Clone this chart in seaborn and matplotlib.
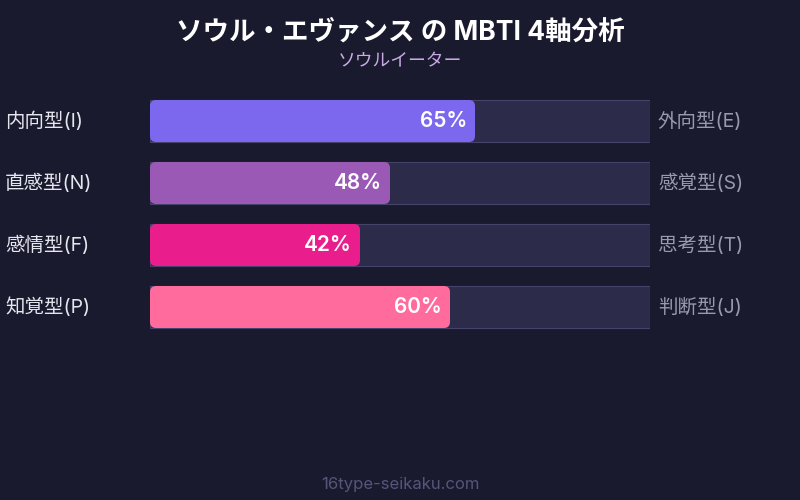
import matplotlib
matplotlib.use("Agg")
from matplotlib import pyplot as plt
from matplotlib.patches import FancyBboxPatch
import seaborn as sns
import pandas as pd

# data
left_labels = ["内向型(I)", "直感型(N)", "感情型(F)", "知覚型(P)"]
right_labels = ["外向型(E)", "感覚型(S)", "思考型(T)", "判断型(J)"]
values = [65, 48, 42, 60]
bar_colors = ["#7b68ee", "#9b59b6", "#e91e8c", "#ff6b9d"]
title = "ソウル・エヴァンス の MBTI 4軸分析"
subtitle = "ソウルイーター"
footer = "16type-seikaku.com"

BG = "#1a1a2e"
TRACK = "#2d2b4a"

sns.set_theme(style="white")
plt.rcParams["font.family"] = ["Inter", "Noto Sans CJK JP", "DejaVu Sans"]

df = pd.DataFrame({"axis": left_labels, "value": values, "full": [100] * len(values)})

fig = plt.figure(figsize=(8, 5), dpi=100, facecolor=BG)
ax = fig.add_axes([150 / 800, 1 - 338 / 500, 500 / 800, 248 / 500])
ax.set_facecolor(BG)

# background tracks
sns.barplot(data=df, x="full", y="axis", orient="h", color=TRACK, width=42 / 62,
            saturation=1, edgecolor="#45436a", linewidth=0.8, ax=ax)
n_track = len(ax.patches)

# value bars (replaced with rounded boxes)
sns.barplot(data=df, x="value", y="axis", orient="h", hue="axis", palette=bar_colors,
            saturation=1, legend=False, width=42 / 62, linewidth=0, ax=ax)

ax.set_xlim(0, 100)
ax.set_ylim(3.5, -0.5)

x_per_px = 100 / 500
y_per_px = 1 / 62
aspect = y_per_px / x_per_px
for p in list(ax.patches[n_track:]):
    x0, y0 = p.get_x(), p.get_y()
    w, h = p.get_width(), p.get_height()
    fc = p.get_facecolor()
    p.remove()
    box = FancyBboxPatch((x0, y0), w, h,
                         boxstyle=f"round,pad=0,rounding_size={6 * x_per_px}",
                         mutation_aspect=aspect, facecolor=fc, edgecolor="none",
                         zorder=3)
    ax.add_patch(box)

for i, v in enumerate(values):
    ax.text(v - 8 * x_per_px, i, f"{v}%", ha="right", va="center", color="white",
            fontsize=15, fontweight="semibold", zorder=4)
    ax.text(-145 * x_per_px, i, left_labels[i], ha="left", va="center",
            color="#e6e6ee", fontsize=14, clip_on=False)
    ax.text(100 + 8 * x_per_px, i, right_labels[i], ha="left", va="center",
            color="#9a9aae", fontsize=14, clip_on=False)

ax.set_xlabel("")
ax.set_ylabel("")
ax.set_xticks([])
ax.set_yticks([])
sns.despine(ax=ax, left=True, bottom=True)

fig.text(0.5, 1 - 33 / 500, title, ha="center", va="center", color="white",
         fontsize=19.1, fontweight="bold")
fig.text(0.5, 1 - 62 / 500, subtitle, ha="center", va="center", color="#c9a9e6",
         fontsize=12.8)
fig.text(0.5, 1 - 485 / 500, footer, ha="center", va="center", color="#55557a",
         fontsize=12)

fig.savefig("out.png", dpi=100, facecolor=BG)
